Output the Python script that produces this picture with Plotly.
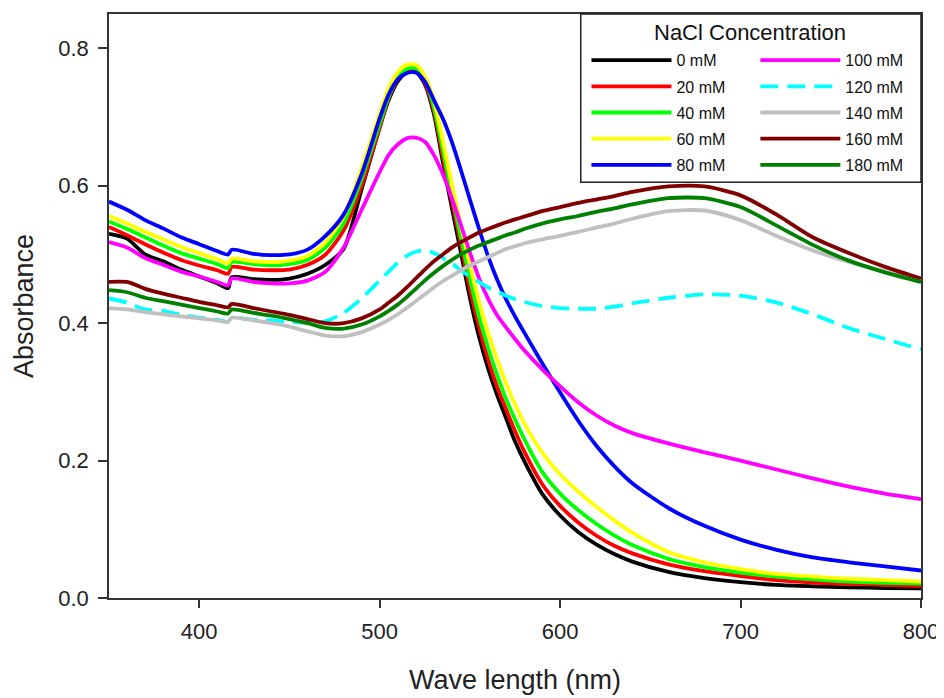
import plotly.graph_objects as go

# Wavelength grid (nm)
wavelength = [350, 360, 370, 380, 390, 400, 410, 416, 418, 430, 440, 450, 460, 470, 480, 490,
              500, 505, 510, 515, 520, 525, 530, 535, 540, 545, 550, 555, 560, 565, 570, 575,
              580, 590, 600, 610, 620, 630, 640, 660, 680, 700, 720, 740, 760, 780, 800]

abs_0 = [0.530, 0.523, 0.500, 0.490, 0.478, 0.468, 0.458, 0.451, 0.467, 0.464, 0.463, 0.465, 0.472, 0.485, 0.508, 0.595,
         0.685, 0.725, 0.752, 0.765, 0.766, 0.748, 0.705, 0.635, 0.568, 0.503, 0.437, 0.381, 0.335, 0.296, 0.262, 0.228,
         0.200, 0.152, 0.120, 0.096, 0.078, 0.064, 0.053, 0.038, 0.029, 0.023, 0.019, 0.017, 0.0155, 0.0145, 0.014]
abs_20 = [0.540, 0.528, 0.515, 0.503, 0.492, 0.484, 0.477, 0.472, 0.482, 0.478, 0.477, 0.478, 0.485, 0.500, 0.535, 0.600,
          0.685, 0.728, 0.755, 0.768, 0.769, 0.750, 0.710, 0.642, 0.578, 0.515, 0.450, 0.395, 0.348, 0.308, 0.275, 0.243,
          0.214, 0.166, 0.134, 0.110, 0.091, 0.076, 0.065, 0.049, 0.039, 0.032, 0.026, 0.0225, 0.0205, 0.019, 0.0175]
abs_40 = [0.548, 0.537, 0.525, 0.513, 0.502, 0.494, 0.486, 0.480, 0.489, 0.486, 0.484, 0.486, 0.492, 0.510, 0.545, 0.610,
          0.690, 0.730, 0.757, 0.770, 0.771, 0.755, 0.715, 0.652, 0.588, 0.525, 0.465, 0.410, 0.365, 0.325, 0.290, 0.260,
          0.232, 0.184, 0.152, 0.128, 0.108, 0.091, 0.077, 0.057, 0.045, 0.037, 0.031, 0.027, 0.024, 0.022, 0.021]
abs_60 = [0.556, 0.545, 0.533, 0.522, 0.511, 0.502, 0.493, 0.487, 0.494, 0.490, 0.489, 0.491, 0.498, 0.518, 0.555, 0.625,
          0.705, 0.742, 0.765, 0.776, 0.776, 0.760, 0.725, 0.665, 0.602, 0.543, 0.485, 0.432, 0.387, 0.348, 0.313, 0.282,
          0.255, 0.212, 0.180, 0.155, 0.133, 0.113, 0.095, 0.067, 0.052, 0.042, 0.035, 0.031, 0.028, 0.026, 0.024]
abs_80 = [0.577, 0.565, 0.550, 0.538, 0.525, 0.515, 0.505, 0.500, 0.507, 0.501, 0.499, 0.500, 0.507, 0.527, 0.558, 0.617,
          0.698, 0.733, 0.755, 0.764, 0.765, 0.752, 0.725, 0.698, 0.664, 0.623, 0.580, 0.538, 0.498, 0.464, 0.435, 0.410,
          0.387, 0.342, 0.299, 0.258, 0.222, 0.192, 0.167, 0.131, 0.105, 0.085, 0.070, 0.059, 0.052, 0.046, 0.040]
abs_100 = [0.518, 0.510, 0.495, 0.485, 0.475, 0.468, 0.460, 0.455, 0.465, 0.460, 0.458, 0.458, 0.462, 0.475, 0.510, 0.565,
           0.620, 0.645, 0.660, 0.669, 0.670, 0.664, 0.645, 0.617, 0.582, 0.543, 0.503, 0.466, 0.436, 0.412, 0.394, 0.377,
           0.361, 0.333, 0.308, 0.285, 0.266, 0.251, 0.240, 0.225, 0.212, 0.200, 0.187, 0.174, 0.162, 0.152, 0.144]
abs_120 = [0.436, 0.430, 0.420, 0.418, 0.412, 0.408, 0.405, 0.402, 0.408, 0.405, 0.404, 0.402, 0.401, 0.403, 0.415, 0.436,
           0.462, 0.475, 0.488, 0.498, 0.504, 0.506, 0.502, 0.495, 0.487, 0.477, 0.468, 0.460, 0.452, 0.446, 0.440, 0.435,
           0.431, 0.425, 0.422, 0.421, 0.421, 0.424, 0.429, 0.437, 0.442, 0.440, 0.430, 0.413, 0.393, 0.377, 0.362]
abs_140 = [0.422, 0.420, 0.416, 0.413, 0.410, 0.407, 0.404, 0.402, 0.408, 0.404, 0.400, 0.395, 0.388, 0.382, 0.381, 0.387,
           0.398, 0.405, 0.413, 0.422, 0.432, 0.442, 0.452, 0.461, 0.469, 0.477, 0.484, 0.490, 0.496, 0.502, 0.508, 0.512,
           0.516, 0.522, 0.527, 0.533, 0.539, 0.545, 0.552, 0.563, 0.564, 0.550, 0.527, 0.506, 0.489, 0.475, 0.460]
abs_160 = [0.460, 0.460, 0.450, 0.443, 0.437, 0.431, 0.426, 0.423, 0.428, 0.422, 0.417, 0.412, 0.406, 0.400, 0.400, 0.407,
           0.420, 0.430, 0.440, 0.452, 0.465, 0.478, 0.490, 0.500, 0.510, 0.518, 0.525, 0.532, 0.537, 0.542, 0.547, 0.551,
           0.555, 0.563, 0.569, 0.575, 0.580, 0.585, 0.591, 0.599, 0.599, 0.586, 0.558, 0.525, 0.502, 0.482, 0.465]
abs_180 = [0.448, 0.445, 0.437, 0.432, 0.427, 0.422, 0.417, 0.414, 0.420, 0.415, 0.411, 0.406, 0.400, 0.393, 0.392, 0.398,
           0.410, 0.418, 0.427, 0.438, 0.450, 0.462, 0.473, 0.483, 0.492, 0.500, 0.507, 0.513, 0.518, 0.523, 0.528, 0.532,
           0.537, 0.545, 0.551, 0.556, 0.562, 0.567, 0.573, 0.582, 0.582, 0.569, 0.542, 0.514, 0.491, 0.474, 0.460]

series_names = ["0 mM", "20 mM", "40 mM", "60 mM", "80 mM",
                "100 mM", "120 mM", "140 mM", "160 mM", "180 mM"]
series_values = [abs_0, abs_20, abs_40, abs_60, abs_80,
                 abs_100, abs_120, abs_140, abs_160, abs_180]
series_colors = ["#000000", "#ff0000", "#00ff00", "#ffff00", "#0000ff",
                 "#ff00ff", "#00ffff", "#c0c0c0", "#800000", "#008000"]
series_dash = ["solid", "solid", "solid", "solid", "solid",
               "solid", "18px,9px", "solid", "solid", "solid"]

x_ticks = [400, 500, 600, 700, 800]
y_ticks = [0.0, 0.2, 0.4, 0.6, 0.8]

FONT = "Liberation Sans, Arial, sans-serif"

fig = go.Figure()
for i, (name, vals, col, dash) in enumerate(zip(series_names, series_values, series_colors, series_dash)):
    fig.add_trace(go.Scatter(
        x=wavelength, y=vals, name=name, mode="lines",
        line=dict(color=col, width=3.8, dash=dash, shape="spline", smoothing=0.7),
        legend="legend" if i < 5 else "legend2",
        legendgroup=name,
        hoverinfo="skip",
    ))

legend_common = dict(
    orientation="v", bgcolor="rgba(0,0,0,0)", borderwidth=0,
    font=dict(family=FONT, size=16, color="#111111"),
    itemwidth=80, tracegroupgap=2.4, yanchor="top", xanchor="left",
    traceorder="grouped",
)

# The page body adds an 8 px offset, so the figure is sized to fit the window.
fig.update_layout(
    width=936, height=690,
    margin=dict(l=101, r=23, t=6, b=100),
    paper_bgcolor="white", plot_bgcolor="white",
    font=dict(family=FONT, color="#222222"),
    showlegend=True,
    legend=dict(x=0.588, y=0.950, **legend_common),
    legend2=dict(x=0.796, y=0.950, **legend_common),
    shapes=[dict(type="rect", xref="paper", yref="paper",
                 x0=0.581, x1=1.0, y0=0.712, y1=1.0,
                 line=dict(color="#222222", width=1.5),
                 fillcolor="white", layer="above")],
    annotations=[dict(text="NaCl Concentration", xref="paper", yref="paper",
                      x=0.790, y=0.9675, xanchor="center", yanchor="middle",
                      showarrow=False, font=dict(family=FONT, size=22, color="#111111"))],
)

fig.update_xaxes(
    range=[350, 800], tickvals=x_ticks, ticks="outside", ticklen=8, tickwidth=1.5,
    tickcolor="#333333", showline=True, linecolor="#333333", linewidth=1.5, mirror=True,
    showgrid=False, zeroline=False, automargin=False, ticklabelstandoff=5,
    tickfont=dict(family=FONT, size=22, color="#222222"),
    title=dict(text="Wave length (nm)", font=dict(family=FONT, size=27, color="#222222"), standoff=27),
)
fig.update_yaxes(
    range=[0, 0.85], tickvals=y_ticks, tickformat=".1f", ticks="outside", ticklen=9, tickwidth=1.5,
    tickcolor="#333333", showline=True, linecolor="#333333", linewidth=1.5, mirror=True,
    showgrid=False, zeroline=False, automargin=False, ticklabelstandoff=5,
    tickfont=dict(family=FONT, size=22, color="#222222"),
    title=dict(text="Absorbance", font=dict(family=FONT, size=27, color="#222222"), standoff=17),
)

fig.write_html("out.html")
